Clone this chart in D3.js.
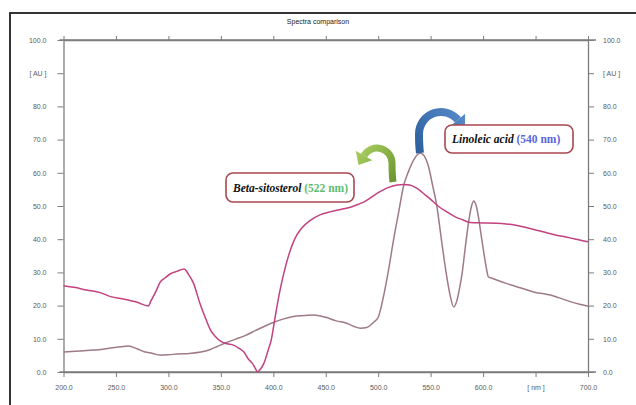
<!DOCTYPE html>
<html>
<head>
<meta charset="utf-8">
<script src="https://cdn.jsdelivr.net/npm/d3@7"></script>
<style>
  html, body { margin: 0; padding: 0; background: #fff; }
  svg { display: block; }
</style>
</head>
<body>
<svg id="chart" width="636" height="405"></svg>
<script>
// Wavelength axis ticks (nm) and absorbance axis ticks (AU)
const xTicks = [200, 250, 300, 350, 400, 450, 500, 550, 600, 650, 700];
const xTickLabels = ["200.0", "250.0", "300.0", "350.0", "400.0", "450.0", "500.0", "550.0", "600.0", "[ nm ]", "700.0"];
const yTicks = [0, 10, 20, 30, 40, 50, 60, 70, 80, 90, 100];
const yTickLabels = ["0.0", "10.0", "20.0", "30.0", "40.0", "50.0", "60.0", "70.0", "80.0", "[ AU ]", "100.0"];

// Beta-sitosterol spectrum
const betaNm = [200, 210, 222, 235, 245, 258, 270, 281, 283, 286, 288, 292, 297, 302, 308, 315, 319, 324, 330, 335, 340, 345, 350, 356, 362, 367, 372, 376, 380, 383, 385, 388, 391, 395, 398, 402, 406, 410, 415, 420, 427, 435, 445, 455, 465, 475, 487, 500, 510, 518, 524, 530, 537, 545, 550, 557, 565, 573, 581, 588, 600, 613, 622, 630, 640, 650, 660, 670, 680, 690, 700];
const betaAU = [26.0, 25.5, 24.7, 23.9, 22.7, 21.9, 21.0, 19.9, 21.2, 23.0, 24.2, 27.0, 28.4, 29.6, 30.3, 31.0, 29.5, 26.7, 20.7, 16.5, 12.7, 10.6, 9.2, 8.5, 8.1, 7.2, 6.0, 4.0, 2.6, 1.0, 0.1, 1.0, 2.6, 6.5, 9.6, 17.0, 24.0, 29.7, 35.5, 39.8, 43.3, 45.6, 47.4, 48.3, 49.0, 49.8, 51.3, 54.0, 55.6, 56.3, 56.5, 56.3, 55.3, 53.3, 52.0, 50.0, 48.3, 46.8, 45.8, 45.0, 44.9, 44.8, 44.6, 44.3, 43.6, 42.8, 42.0, 41.2, 40.6, 39.9, 39.2];

// Linoleic acid spectrum
const linoNm = [200, 215, 229, 245, 255, 262, 270, 277, 285, 292, 300, 308, 320, 331, 340, 346, 355, 365, 372, 385, 400, 410, 419, 430, 438, 445, 451, 460, 470, 477, 483, 489, 495, 500, 505, 510, 515, 520, 524, 529, 534, 540, 544, 548, 552, 556, 560, 564, 568, 572, 575, 578, 580, 583, 586, 589, 591, 593, 595.5, 598, 600.3, 603, 605, 608, 613, 622, 632, 642, 651, 658, 664, 672, 683, 692, 700];
const linoAU = [6.0, 6.3, 6.6, 7.2, 7.6, 7.8, 7.0, 6.1, 5.6, 5.1, 5.2, 5.4, 5.6, 6.0, 6.8, 7.6, 8.8, 10.0, 10.8, 12.8, 14.9, 16.0, 16.7, 17.0, 17.2, 16.9, 16.4, 15.4, 14.7, 13.7, 13.2, 13.4, 14.8, 16.5, 22.7, 31.0, 40.5, 49.0, 55.8, 60.5, 64.0, 66.0, 65.0, 61.8, 56.0, 49.8, 40.5, 31.5, 24.0, 19.6, 21.5, 26.0, 29.7, 37.5, 44.8, 50.0, 51.5, 50.5, 46.8, 41.5, 36.7, 31.5, 28.7, 28.3, 27.7, 26.7, 25.7, 24.7, 23.9, 23.6, 23.2, 22.4, 21.2, 20.4, 19.8];

const svg = d3.select("#chart");
const plot = { left: 63.5, right: 588, top: 40, bottom: 372 };

const x = d3.scaleLinear().domain([200, 700]).range([plot.left, plot.right]);
const y = d3.scaleLinear().domain([0, 100]).range([plot.bottom, plot.top]);

const axisColor = "#7d7d7d";
const labelColor = "#5a5a5a";
const tickFont = "Liberation Sans, Arial, sans-serif";

// Outer frame
svg.append("rect")
  .attr("x", 10).attr("y", 13)
  .attr("width", 700).attr("height", 500)
  .attr("fill", "none").attr("stroke", "#333").attr("stroke-width", 2);

// Title
svg.append("text")
  .attr("x", 318).attr("y", 24)
  .attr("text-anchor", "middle")
  .attr("font-family", tickFont).attr("font-size", 7)
  .attr("fill", "#222")
  .text("Spectra comparison");

function styleAxis(g) {
  g.selectAll("path.domain").attr("stroke", axisColor).attr("stroke-width", 1.3);
  g.selectAll(".tick line").attr("stroke", axisColor).attr("stroke-width", 1);
  g.selectAll(".tick text")
    .attr("fill", labelColor)
    .attr("font-family", tickFont)
    .attr("font-size", 7);
}

// Bottom axis
svg.append("g")
  .attr("transform", `translate(0,${plot.bottom})`)
  .call(d3.axisBottom(x).tickValues(xTicks)
    .tickFormat((d, i) => xTickLabels[i]).tickSize(5).tickSizeOuter(0).tickPadding(8))
  .call(styleAxis);

// Top axis (ticks only)
svg.append("g")
  .attr("transform", `translate(0,${plot.top})`)
  .call(d3.axisTop(x).tickValues(xTicks).tickFormat("").tickSize(4).tickSizeOuter(0))
  .call(styleAxis);

// Left axis
svg.append("g")
  .attr("transform", `translate(${plot.left},0)`)
  .call(d3.axisLeft(y).tickValues(yTicks)
    .tickFormat((d, i) => yTickLabels[i]).tickSize(6).tickSizeOuter(0).tickPadding(11))
  .call(styleAxis);

// Right axis
svg.append("g")
  .attr("transform", `translate(${plot.right},0)`)
  .call(d3.axisRight(y).tickValues(yTicks)
    .tickFormat((d, i) => yTickLabels[i]).tickSize(6).tickSizeOuter(0).tickPadding(9))
  .call(styleAxis);

// Small extensions of the frame lines beyond the corners
svg.append("line").attr("x1", plot.left - 4).attr("x2", plot.right + 8)
  .attr("y1", plot.top).attr("y2", plot.top)
  .attr("stroke", axisColor).attr("stroke-width", 1.3);
svg.append("line").attr("x1", plot.left - 4).attr("x2", plot.right + 8)
  .attr("y1", plot.bottom).attr("y2", plot.bottom)
  .attr("stroke", axisColor).attr("stroke-width", 1.3);

// Spectra
const line = d3.line().x(d => x(d[0])).y(d => y(d[1])).curve(d3.curveMonotoneX);

svg.append("path")
  .datum(linoNm.map((n, i) => [n, linoAU[i]]))
  .attr("d", line)
  .attr("fill", "none").attr("stroke", "#9e7a84").attr("stroke-width", 1.5);

svg.append("path")
  .datum(betaNm.map((n, i) => [n, betaAU[i]]))
  .attr("d", line)
  .attr("fill", "none").attr("stroke", "#c2417f").attr("stroke-width", 1.5);

// Curved call-out arrows
const defs = svg.append("defs");
function gradient(id, c1, c2, x1, y1, x2, y2) {
  const g = defs.append("linearGradient").attr("id", id)
    .attr("gradientUnits", "userSpaceOnUse")
    .attr("x1", x1).attr("y1", y1).attr("x2", x2).attr("y2", y2);
  g.append("stop").attr("offset", "0%").attr("stop-color", c1);
  g.append("stop").attr("offset", "100%").attr("stop-color", c2);
}
gradient("greenGrad", "#a6cc5e", "#6c9530", 360, 150, 395, 180);
gradient("blueGrad", "#5a8fcf", "#2d5f9c", 470, 110, 415, 150);

function curvedArrow(opts) {
  const { cx, cy, r, tailX, tailY, a0, a1, sweep, width, head, headLen, fill } = opts;
  const rad = a => a * Math.PI / 180;
  const sx = cx + r * Math.cos(rad(a0)), sy = cy + r * Math.sin(rad(a0));
  const ex = cx + r * Math.cos(rad(a1)), ey = cy + r * Math.sin(rad(a1));
  const large = Math.abs(a1 - a0) > 180 ? 1 : 0;
  svg.append("path")
    .attr("d", `M${tailX},${tailY} Q${sx},${(sy + tailY) / 2 + 2} ${sx},${sy} A${r},${r} 0 ${large} ${sweep} ${ex},${ey}`)
    .attr("fill", "none").attr("stroke", fill).attr("stroke-width", width);
  // tangent direction at the arc end
  const s = sweep ? 1 : -1;
  const tx = -Math.sin(rad(a1)) * s, ty = Math.cos(rad(a1)) * s;
  const px = -ty, py = tx;
  const pts = [
    [ex + px * head, ey + py * head],
    [ex - px * head, ey - py * head],
    [ex + tx * headLen, ey + ty * headLen]
  ];
  svg.append("polygon")
    .attr("points", pts.map(p => p.join(",")).join(" "))
    .attr("fill", fill);
}

curvedArrow({ cx: 377, cy: 163, r: 15, tailX: 393, tailY: 182, a0: 0, a1: -150,
  sweep: 0, width: 7, head: 9.5, headLen: 11, fill: "url(#greenGrad)" });
curvedArrow({ cx: 441, cy: 134, r: 22, tailX: 420, tailY: 153, a0: 180, a1: 320,
  sweep: 1, width: 8, head: 9.5, headLen: 11, fill: "url(#blueGrad)" });

// Labelled boxes
function labelBox(bx, by, bw, bh, name, nmText, nmColor) {
  svg.append("rect")
    .attr("x", bx).attr("y", by).attr("width", bw).attr("height", bh)
    .attr("rx", 7).attr("ry", 7)
    .attr("fill", "#fff").attr("stroke", "#a9474f").attr("stroke-width", 1.6);
  const t = svg.append("text")
    .attr("x", bx + 7).attr("y", by + bh / 2 + 4)
    .attr("font-family", "Liberation Serif, Times New Roman, serif")
    .attr("font-size", 11.5).attr("font-weight", "bold");
  t.append("tspan").attr("font-style", "italic").attr("fill", "#111").text(name);
  t.append("tspan").attr("fill", nmColor).text(" " + nmText);
}
labelBox(226, 173, 128, 29, "Beta-sitosterol", "(522 nm)", "#5cbd72");
labelBox(445, 125, 128, 28, "Linoleic acid", "(540 nm)", "#5566dd");
</script>
</body>
</html>
